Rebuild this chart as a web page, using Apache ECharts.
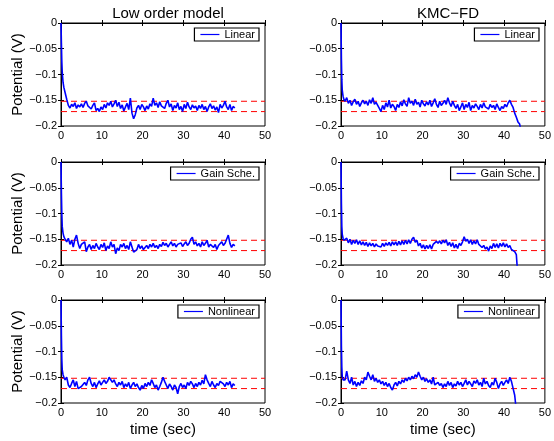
<!DOCTYPE html>
<html>
<head>
<meta charset="utf-8">
<script src="https://cdn.jsdelivr.net/npm/echarts@6/dist/echarts.min.js"></script>
<style>
  html, body { margin: 0; padding: 0; background: #fff; }
  #chart { width: 554px; height: 441px; }
</style>
</head>
<body>
<div id="chart"></div>
<script>
// sample times (sec), shared by all traces
const timeSec = [0, 0.1, 0.2, 0.3, 0.5, 0.7, 1.0,
  1.4, 1.8, 2.2, 2.6, 3.0, 3.4, 3.8, 4.2, 4.6, 5.0,
  5.4, 5.8, 6.2, 6.6, 7.0, 7.4, 7.8, 8.2, 8.6, 9.0,
  9.4, 9.8, 10.2, 10.6, 11.0, 11.4, 11.8, 12.2, 12.6, 13.0,
  13.4, 13.8, 14.2, 14.6, 15.0, 15.4, 15.8, 16.2, 16.6, 17.0,
  17.4, 17.8, 18.2, 18.6, 19.0, 19.4, 19.8, 20.2, 20.6, 21.0,
  21.4, 21.8, 22.2, 22.6, 23.0, 23.4, 23.8, 24.2, 24.6, 25.0,
  25.4, 25.8, 26.2, 26.6, 27.0, 27.4, 27.8, 28.2, 28.6, 29.0,
  29.4, 29.8, 30.2, 30.6, 31.0, 31.4, 31.8, 32.2, 32.6, 33.0,
  33.4, 33.8, 34.2, 34.6, 35.0, 35.4, 35.8, 36.2, 36.6, 37.0,
  37.4, 37.8, 38.2, 38.6, 39.0, 39.4, 39.8, 40.2, 40.6, 41.0,
  41.4, 41.8, 42.2, 42.6, 43.0, 43.4, 43.8, 44.2]

// low order model
const lowLinear = [0, -0.04, -0.075, -0.095, -0.115, -0.125, -0.135,
  -0.148, -0.160, -0.165, -0.158, -0.162, -0.155, -0.166, -0.159, -0.163, -0.157,
  -0.164, -0.156, -0.152, -0.161, -0.158, -0.167, -0.160, -0.155, -0.170, -0.166,
  -0.172, -0.163, -0.168, -0.158, -0.165, -0.155, -0.160, -0.152, -0.163, -0.157,
  -0.150, -0.162, -0.154, -0.166, -0.159, -0.171, -0.163, -0.156, -0.168, -0.146,
  -0.175, -0.186, -0.178, -0.165, -0.160, -0.168, -0.158, -0.163, -0.170, -0.161,
  -0.167, -0.157, -0.162, -0.146, -0.160, -0.155, -0.164, -0.153, -0.161, -0.158,
  -0.166, -0.156, -0.150, -0.163, -0.157, -0.170, -0.160, -0.165, -0.155, -0.168,
  -0.162, -0.172, -0.158, -0.166, -0.154, -0.163, -0.168, -0.159, -0.165, -0.161,
  -0.170, -0.160, -0.166, -0.158, -0.168, -0.162, -0.172, -0.163, -0.157, -0.166,
  -0.161, -0.169, -0.163, -0.174, -0.158, -0.165, -0.160, -0.152, -0.163, -0.168,
  -0.158, -0.170, -0.162, -0.165]
const lowGain = [0, -0.06, -0.10, -0.125, -0.138, -0.145, -0.150,
  -0.155, -0.148, -0.160, -0.152, -0.165, -0.150, -0.142, -0.158, -0.168, -0.160,
  -0.163, -0.155, -0.174, -0.165, -0.160, -0.170, -0.162, -0.168, -0.158, -0.165,
  -0.170, -0.160, -0.166, -0.157, -0.172, -0.163, -0.168, -0.155, -0.165, -0.160,
  -0.178, -0.167, -0.172, -0.160, -0.165, -0.158, -0.168, -0.162, -0.170, -0.155,
  -0.165, -0.175, -0.178, -0.170, -0.160, -0.168, -0.163, -0.170, -0.166, -0.162,
  -0.168, -0.160, -0.165, -0.158, -0.166, -0.162, -0.168, -0.160, -0.164, -0.156,
  -0.162, -0.158, -0.165, -0.160, -0.155, -0.163, -0.158, -0.165, -0.160, -0.163,
  -0.157, -0.164, -0.159, -0.155, -0.162, -0.158, -0.150, -0.146, -0.160, -0.155,
  -0.163, -0.158, -0.165, -0.155, -0.162, -0.158, -0.152, -0.165, -0.160, -0.157,
  -0.166, -0.160, -0.170, -0.162, -0.165, -0.155, -0.162, -0.158, -0.150, -0.142,
  -0.158, -0.166, -0.160, -0.163]
const lowNonlinear = [0, -0.07, -0.115, -0.135, -0.145, -0.150, -0.155,
  -0.150, -0.165, -0.170, -0.162, -0.155, -0.168, -0.158, -0.172, -0.175, -0.168,
  -0.170, -0.160, -0.166, -0.155, -0.150, -0.162, -0.168, -0.160, -0.170, -0.163,
  -0.157, -0.165, -0.160, -0.155, -0.162, -0.158, -0.150, -0.147, -0.160, -0.155,
  -0.163, -0.168, -0.160, -0.165, -0.158, -0.170, -0.163, -0.168, -0.160, -0.172,
  -0.165, -0.160, -0.168, -0.163, -0.170, -0.175, -0.166, -0.172, -0.162, -0.168,
  -0.160, -0.166, -0.155, -0.162, -0.170, -0.165, -0.175, -0.168, -0.160, -0.150,
  -0.158, -0.165, -0.172, -0.163, -0.168, -0.175, -0.165, -0.170, -0.182, -0.168,
  -0.162, -0.170, -0.165, -0.172, -0.160, -0.166, -0.158, -0.163, -0.170, -0.162,
  -0.168, -0.160, -0.165, -0.156, -0.163, -0.145, -0.155, -0.162, -0.168, -0.158,
  -0.165, -0.170, -0.162, -0.166, -0.158, -0.155, -0.163, -0.168, -0.160, -0.165,
  -0.158, -0.170, -0.163, -0.166]

// KMC-FD
const kmcLinear = [0, -0.07, -0.11, -0.13, -0.142, -0.148, -0.152,
  -0.145, -0.156, -0.150, -0.160, -0.153, -0.148, -0.158, -0.152, -0.162, -0.155,
  -0.150, -0.157, -0.152, -0.160, -0.149, -0.156, -0.145, -0.158, -0.154, -0.160,
  -0.166, -0.172, -0.160, -0.168, -0.155, -0.163, -0.150, -0.165, -0.158, -0.162,
  -0.170, -0.158, -0.164, -0.153, -0.161, -0.149, -0.157, -0.162, -0.145, -0.156,
  -0.152, -0.160, -0.148, -0.158, -0.154, -0.163, -0.150, -0.157, -0.161, -0.153,
  -0.159, -0.150, -0.162, -0.155, -0.147, -0.158, -0.164, -0.152, -0.160, -0.156,
  -0.150, -0.158, -0.145, -0.155, -0.162, -0.152, -0.160, -0.166, -0.158, -0.170,
  -0.163, -0.155, -0.168, -0.158, -0.164, -0.154, -0.170, -0.160, -0.165, -0.157,
  -0.162, -0.168, -0.158, -0.165, -0.155, -0.163, -0.160, -0.167, -0.158, -0.164,
  -0.160, -0.168, -0.157, -0.164, -0.170, -0.162, -0.166, -0.158, -0.163, -0.155,
  -0.150, -0.158, -0.164, -0.175, -0.183, -0.192, -0.196, -0.212]
const kmcGain = [0, -0.08, -0.125, -0.14, -0.148, -0.152, -0.155,
  -0.148, -0.157, -0.150, -0.160, -0.152, -0.158, -0.151, -0.160, -0.153, -0.161,
  -0.155, -0.162, -0.156, -0.164, -0.157, -0.163, -0.158, -0.165, -0.159, -0.163,
  -0.160, -0.165, -0.158, -0.164, -0.157, -0.162, -0.156, -0.163, -0.155, -0.161,
  -0.155, -0.162, -0.154, -0.161, -0.153, -0.160, -0.152, -0.159, -0.151, -0.158,
  -0.150, -0.146, -0.156, -0.152, -0.163, -0.158, -0.167, -0.161, -0.169, -0.162,
  -0.168, -0.161, -0.169, -0.160, -0.162, -0.154, -0.158, -0.153, -0.159, -0.152,
  -0.157, -0.151, -0.162, -0.156, -0.164, -0.157, -0.167, -0.160, -0.168, -0.158,
  -0.162, -0.155, -0.145, -0.154, -0.150, -0.158, -0.151, -0.160, -0.153, -0.159,
  -0.151, -0.160, -0.157, -0.166, -0.162, -0.169, -0.165, -0.173, -0.163, -0.168,
  -0.158, -0.166, -0.159, -0.167, -0.158, -0.164, -0.157, -0.165, -0.159, -0.166,
  -0.162, -0.170, -0.168, -0.174, -0.180, -0.225]
const kmcNonlinear = [0, -0.09, -0.13, -0.148, -0.155, -0.158, -0.155,
  -0.138, -0.155, -0.162, -0.150, -0.165, -0.158, -0.168, -0.160, -0.166, -0.157,
  -0.162, -0.150, -0.155, -0.140, -0.148, -0.155, -0.145, -0.158, -0.152, -0.160,
  -0.155, -0.163, -0.158, -0.166, -0.160, -0.168, -0.162, -0.170, -0.175, -0.165,
  -0.160, -0.167, -0.158, -0.163, -0.155, -0.160, -0.152, -0.157, -0.150, -0.155,
  -0.148, -0.153, -0.145, -0.150, -0.140, -0.148, -0.155, -0.150, -0.158, -0.153,
  -0.160, -0.155, -0.163, -0.150, -0.165, -0.168, -0.160, -0.166, -0.162, -0.170,
  -0.163, -0.168, -0.158, -0.166, -0.160, -0.170, -0.163, -0.167, -0.158, -0.165,
  -0.160, -0.168, -0.162, -0.155, -0.165, -0.158, -0.163, -0.168, -0.157, -0.162,
  -0.155, -0.165, -0.160, -0.168, -0.152, -0.163, -0.158, -0.166, -0.170, -0.160,
  -0.165, -0.152, -0.160, -0.172, -0.163, -0.158, -0.166, -0.160, -0.155, -0.162,
  -0.150, -0.158, -0.160, -0.185, -0.215]

// red dashed bounds, drawn across the whole time axis
const bounds = [-0.152, -0.172]
const timeRange = [0, 50]

const colTitles = ['Low order model', 'KMC\u2212FD']
const rowNames = ['Linear', 'Gain Sche.', 'Nonlinear']
const panelData = [
  [lowLinear, kmcLinear],
  [lowGain, kmcGain],
  [lowNonlinear, kmcNonlinear]
]

const font = 'Liberation Sans, Arial, Helvetica, sans-serif'
const gridLeft = [61, 341]
const gridTop = [23, 162, 300]
const gridW = 204
const gridH = 103
const legendTop = [28, 167, 305]
const red = '#ff0000'
const blue = '#0000ff'

const minus = (v) => String(v).replace('-', '\u2212')

const grids = []
const xAxes = []
const yAxes = []
const series = []
const legends = []

rowNames.forEach((name, r) => {
  for (let c = 0; c < 2; c++) {
    const idx = r * 2 + c
    grids.push({
      left: gridLeft[c],
      top: gridTop[r],
      width: gridW,
      height: gridH,
      show: true,
      borderColor: '#000',
      borderWidth: 1
    })
    // bottom / left axes with labels
    xAxes.push({
      type: 'value',
      gridIndex: idx,
      min: timeRange[0],
      max: timeRange[1],
      interval: 10,
      position: 'bottom',
      name: r === 2 ? 'time (sec)' : '',
      nameLocation: 'middle',
      nameGap: 19,
      nameTextStyle: { fontFamily: font, fontSize: 15, color: '#000' },
      axisLine: { lineStyle: { color: '#000' } },
      axisTick: { inside: true, length: 3, lineStyle: { color: '#000' } },
      axisLabel: { fontFamily: font, fontSize: 11, color: '#000', margin: 4 },
      splitLine: { show: false }
    })
    yAxes.push({
      type: 'value',
      gridIndex: idx,
      min: -0.2,
      max: 0,
      interval: 0.05,
      position: 'left',
      name: c === 0 ? 'Potential (V)' : '',
      nameLocation: 'middle',
      nameGap: 26,
      nameTextStyle: { fontFamily: font, fontSize: 15, color: '#000' },
      axisLine: { lineStyle: { color: '#000' } },
      axisTick: { inside: true, length: 3, lineStyle: { color: '#000' } },
      axisLabel: { fontFamily: font, fontSize: 11, color: '#000', margin: 4, formatter: minus },
      splitLine: { show: false }
    })
    // mirrored ticks on top / right
    xAxes.push({
      type: 'value',
      gridIndex: idx,
      min: timeRange[0],
      max: timeRange[1],
      interval: 10,
      position: 'top',
      axisLine: { lineStyle: { color: '#000' } },
      axisTick: { inside: true, length: 3, lineStyle: { color: '#000' } },
      axisLabel: { show: false },
      splitLine: { show: false }
    })
    yAxes.push({
      type: 'value',
      gridIndex: idx,
      min: -0.2,
      max: 0,
      interval: 0.05,
      position: 'right',
      axisLine: { lineStyle: { color: '#000' } },
      axisTick: { inside: true, length: 3, lineStyle: { color: '#000' } },
      axisLabel: { show: false },
      splitLine: { show: false }
    })

    // bounds first so the trace is drawn over them
    bounds.forEach((b, k) => {
      series.push({
        name: 'bound' + idx + '_' + k,
        type: 'line',
        xAxisIndex: idx * 2,
        yAxisIndex: idx * 2,
        data: timeRange.map((t) => [t, b]),
        symbol: 'none',
        silent: true,
        color: red,
        itemStyle: { color: red },
        lineStyle: { color: red, type: [6, 4], width: 1 },
        z: 1
      })
    })

    const vals = panelData[r][c]
    series.push({
      name: 'trace' + idx,
      type: 'line',
      xAxisIndex: idx * 2,
      yAxisIndex: idx * 2,
      data: vals.map((v, i) => [timeSec[i], v]),
      symbol: 'none',
      clip: true,
      color: blue,
      lineStyle: { color: blue, width: 1.6 },
      itemStyle: { color: blue, borderColor: blue },
      z: 2
    })
    legends.push({
      data: [{
        name: 'trace' + idx,
        icon: 'rect',
        itemStyle: { color: blue, borderColor: blue, borderWidth: 0 },
        lineStyle: { color: blue }
      }],
      formatter: () => name,
      right: 554 - (gridLeft[c] + gridW) + 6,
      top: legendTop[r],
      backgroundColor: '#fff',
      borderColor: '#000',
      borderWidth: 1.2,
      borderRadius: 0,
      padding: [1, 4, 1, 6],
      itemWidth: 19,
      itemHeight: 1.2,
      itemGap: 0,
      selectedMode: false,
      itemStyle: { color: blue, borderColor: blue, borderWidth: 0 },
      lineStyle: { color: blue },
      textStyle: { fontFamily: font, fontSize: 11, color: '#000', padding: [1, 0, 0, 0] }
    })
  }
})

const chart = echarts.init(document.getElementById('chart'))
chart.setOption({
  animation: false,
  backgroundColor: '#fff',
  color: [blue],
  title: colTitles.map((t, c) => ({
    text: t,
    left: gridLeft[c] + gridW / 2,
    top: 1,
    textAlign: 'center',
    textStyle: { fontFamily: font, fontSize: 15, fontWeight: 'normal', color: '#000' }
  })),
  grid: grids,
  xAxis: xAxes,
  yAxis: yAxes,
  legend: legends,
  series: series
})
</script>
</body>
</html>
